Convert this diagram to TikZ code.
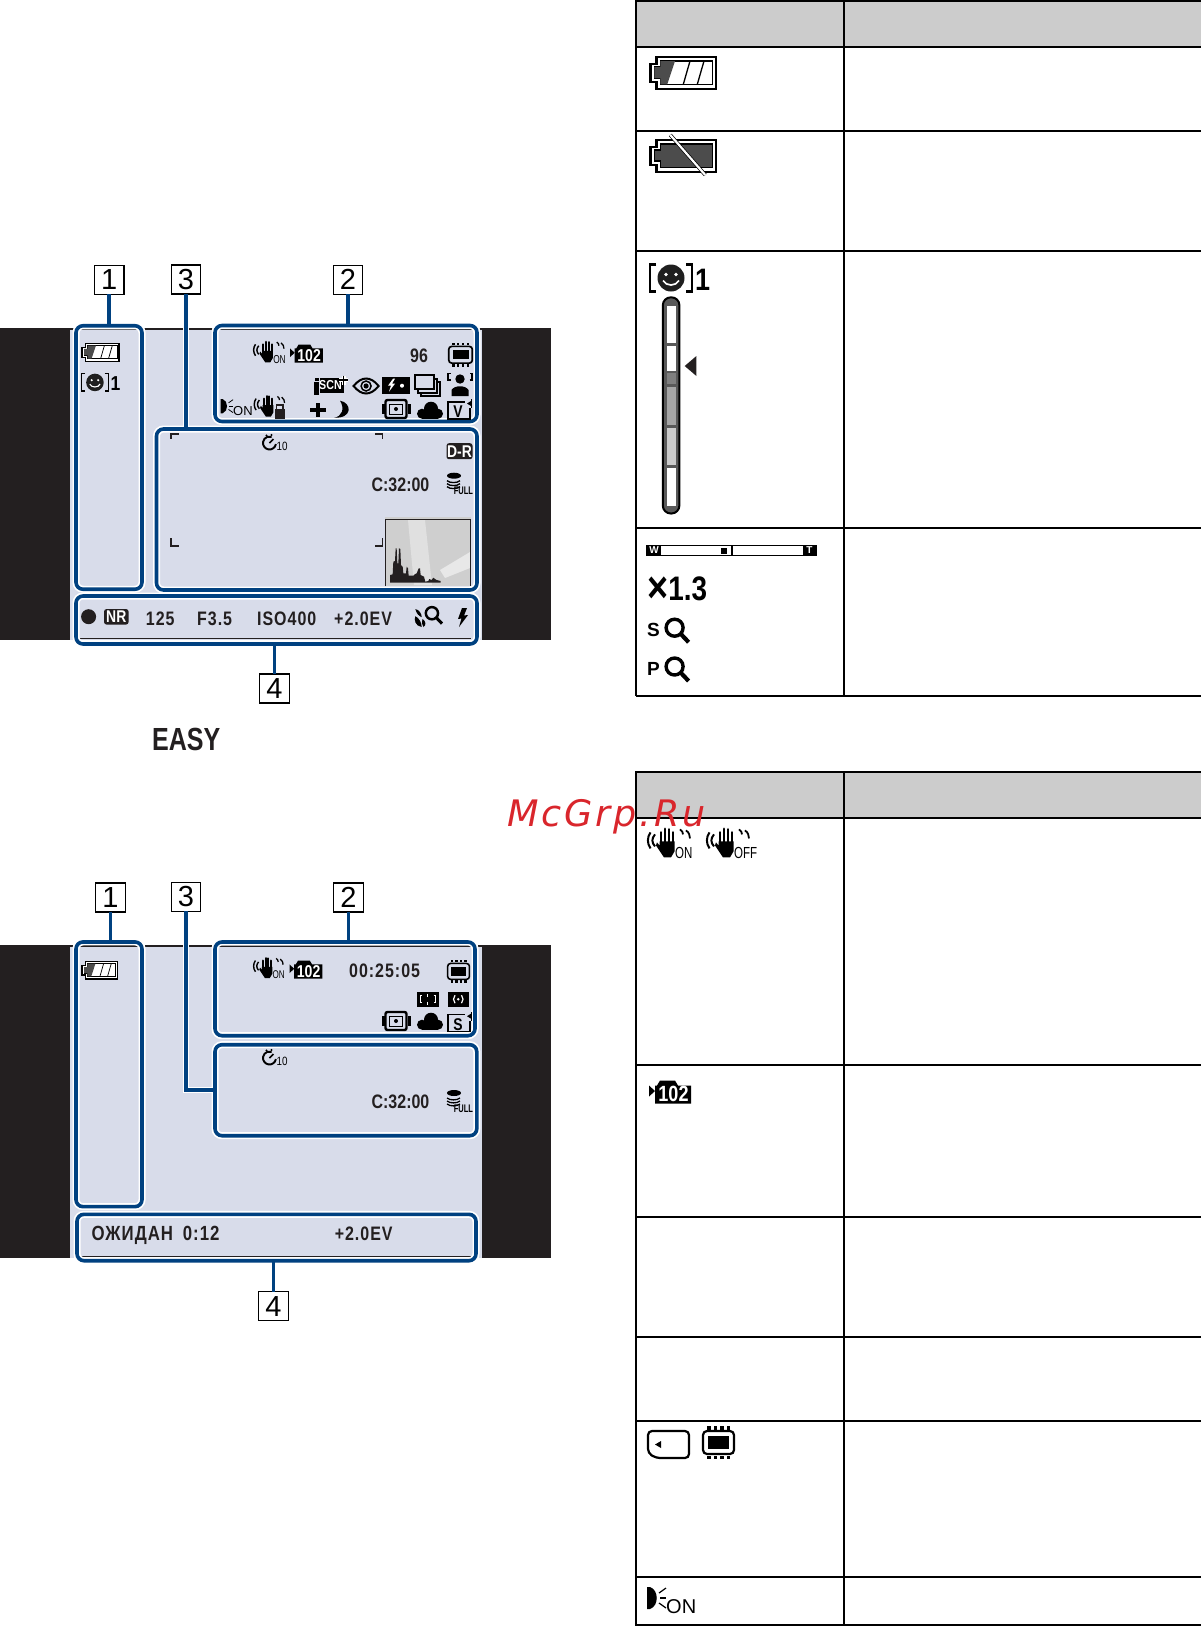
\documentclass[tikz,border=0pt]{standalone}
\usepackage{fontspec}
\usepackage{tikz}
\usetikzlibrary{backgrounds}
\setmainfont{Liberation Sans}
\newfontfamily\lcdfont[FakeStretch=.82]{Liberation Sans}
\newfontfamily\lcdwide[FakeStretch=.82,LetterSpace=5]{Liberation Sans}
\newfontfamily\tabfont[FakeStretch=.87]{Liberation Sans}
\newfontfamily\markfont[LetterSpace=8]{DejaVu Sans}
\definecolor{lcdfill}{HTML}{D8DCEA}
\definecolor{framecol}{HTML}{004180}
\definecolor{bandcol}{HTML}{231F20}
\definecolor{headcol}{HTML}{CCCCCC}
\definecolor{markcol}{HTML}{D9262C}
\newcommand{\iconinit}{\pgfgettransformentries{\lwa}{\lwb}{\lwc}{\lwd}{\lwe}{\lwf}}
\newcommand{\lcdsize}[1]{\lcdfont\bfseries\fontsize{#1}{#1}\selectfont}
\newcommand{\widesize}[1]{\lcdwide\bfseries\fontsize{#1}{#1}\selectfont}
\newcommand{\leadline}[1]{\begin{pgfonlayer}{background}\draw[leadhalo] #1;\end{pgfonlayer}\draw[lead] #1;}
\tikzset{
	ic/.style={line width=#1*\lwa*1pt},
	frame/.style={draw=framecol, line width=3.6pt, rounded corners=7pt, inner sep=0pt, outer sep=0pt,
		preaction={draw=white, line width=7pt}},
	lead/.style={draw=framecol, line width=3.6pt},
	leadhalo/.style={draw=white, line width=6.5pt},
	numbox/.style={draw, line width=1.2pt, fill=white, minimum width=29.5pt, minimum height=29pt, inner sep=0pt, outer sep=0pt, font=\fontsize{29}{29}\selectfont},
	lcdtxt/.style={anchor=base west, inner sep=0pt, text=bandcol, font=\lcdsize{19.5}},
	widetxt/.style={lcdtxt, font=\widesize{19.5}},
	ictxt/.style={transform shape, inner sep=0pt, anchor=base west},
	tagbox/.style={fill=bandcol, text=white, rounded corners=2.5pt, inner sep=0pt, font=\lcdsize{17}},
	tabline/.style={line width=2pt},
	battfull/.pic={\iconinit
		\draw[ic=2.4, fill=white] (7,1.2) -- (66.5,1.2) -- (66.5,32.8) -- (7,32.8) -- (7,25.7) -- (1.2,25.7) -- (1.2,8) -- (7,8) -- cycle;
		\draw[ic=1.3, fill=white] (11,5) -- (63,5) -- (63,28.3) -- (11,28.3) -- (11,22) -- (5,22) -- (5,11) -- (11,11) -- cycle;
		\fill[black!70] (11,5) -- (25.7,5) -- (18,28.3) -- (11,28.3) -- (11,22) -- (5,22) -- (5,11) -- (11,11) -- cycle;
		\draw[ic=1.3] (34,28.3) -- (40.7,5);
		\draw[ic=1.3] (48,28.3) -- (54.7,5);
	},
	battnone/.pic={\iconinit
		\draw[ic=2.4, fill=white] (7,1.2) -- (66.5,1.2) -- (66.5,32.8) -- (7,32.8) -- (7,25.7) -- (1.2,25.7) -- (1.2,8) -- (7,8) -- cycle;
		\draw[ic=1.3, fill=black!70] (11,5) -- (63,5) -- (63,28.3) -- (11,28.3) -- (11,22) -- (5,22) -- (5,11) -- (11,11) -- cycle;
		\draw[ic=3.6] (21,-4) -- (56,36);
		\draw[ic=2.2, white] (21,-4) -- (56,36);
	},
	smiley/.pic={\iconinit
		\draw[ic=2.4] (8,1) -- (2,1) -- (2,28) -- (8,28);
		\draw[ic=2.4] (38,1) -- (44,1) -- (44,28) -- (38,28);
		\fill[black!88] (23,14.5) circle[radius=13.5];
		\fill[white] (18,11) circle[radius=1.8];
		\fill[white] (28,11) circle[radius=1.8];
		\draw[ic=1.7, white] (15,17) .. controls (18,23) and (28,23) .. (31,17);
		\node[ictxt, font=\tabfont\bfseries\fontsize{31}{31}\selectfont] (one) at (47,27) {1};
	},
	hand/.pic={\iconinit
		\draw[ic=2] (3.5,5) .. controls (0,10) and (0,16) .. (3.5,21);
		\draw[ic=2] (8,7) .. controls (4.5,11) and (4.5,15) .. (8,19);
		\foreach \fx/\fy in {14/5,18/1.5,22/2,26/5}
			\draw[ic=2.9, line cap=round] (\fx,\fy) -- (\fx,18);
		\fill (12.5,14) -- (27.5,14) -- (27.5,24) -- (24,30) -- (17,30) -- (9,18) -- (10,15) -- (12.5,18) -- cycle;
		\draw[ic=1.8] (33,2) .. controls (35,3) and (36,5) .. (36,7);
		\draw[ic=1.8] (39,3) .. controls (42,5) and (43,8) .. (43,11);
		\node[ictxt, xscale=.72, font=\fontsize{16}{16}\selectfont] (state) at (28,31) {#1};
	},
	folder/.pic={\iconinit
		\fill (0,7) -- (6,12.5) -- (0,18) -- cycle;
		\fill (6,7) -- (8,7) -- (11,2) -- (26,2) -- (29,7) -- (42,7) -- (42,25) -- (6,25) -- cycle;
		\node[transform shape, inner sep=0pt, text=white, font=\lcdsize{22}] (num) at (24.5,15.5) {102};
	},
	chip/.pic={\iconinit
		\draw[ic=2.2, rounded corners=4*\lwa pt] (1,5) rectangle (32,28);
		\fill (6,10) rectangle (27,23);
		\foreach \px in {5,11.5,18,24.5} {
			\fill (\px,0) rectangle (\px+3.6,3.5);
			\fill (\px,29.5) rectangle (\px+3.6,33);
		}
	},
	card/.pic={\iconinit
		\draw[ic=2.2, rounded corners=4pt] (1,1) -- (42,1) -- (42,28) -- (9,28) -- (1,23) -- cycle;
		\fill (14,11) -- (8,14.5) -- (14,18) -- cycle;
	},
	dro/.pic={\iconinit
		\fill (0,0) -- (3,0) .. controls (12,3) and (12,19) .. (3,22) -- (0,22) -- cycle;
		\draw[ic=1.2] (12,6) -- (19,1);
		\draw[ic=1.2] (13,11) -- (19,11);
		\draw[ic=1.2] (12,16) -- (19,21);
		\node[ictxt, font=\fontsize{20}{20}\selectfont] (state) at (19,26) {ON};
	},
	iscn/.pic={\iconinit
		\fill (1.5,6) rectangle (6,19);
		\fill (2,2.5) rectangle (6,5);
		\fill (7,2) rectangle (31,17);
		\node[transform shape, inner sep=0pt, text=white, font=\lcdfont\bfseries\fontsize{13}{13}\selectfont] (scn) at (18,9.8) {SCN};
		\draw[ic=4, white] (31,0) -- (31,9);
		\draw[ic=4, white] (26.5,4.5) -- (35.5,4.5);
		\draw[ic=1.7] (31,0) -- (31,9);
		\draw[ic=1.7] (26.5,4.5) -- (35.5,4.5);
	},
	eye/.pic={\iconinit
		\draw[ic=2] (0,8) .. controls (8,-2) and (17,-2) .. (25,8) .. controls (17,18) and (8,18) .. cycle;
		\draw[ic=1.5] (12.5,8) circle[radius=5];
		\fill (12.5,8) circle[radius=2.6];
	},
	flashbox/.pic={\iconinit
		\fill (0,0) rectangle (28,17);
		\fill[white] (11,2) -- (6,9) -- (9,9) -- (7,15) -- (13,7) -- (10,7) -- (13,2) -- cycle;
		\fill[white] (20,9) circle[radius=2];
	},
	stack/.pic={\iconinit
		\draw[ic=1.2] (6,7) rectangle (25,21);
		\draw[ic=1.2, fill=lcdfill] (3,4) rectangle (22,18);
		\draw[ic=1.2, fill=lcdfill] (0,0) rectangle (19,14);
	},
	face/.pic={\iconinit
		\draw[ic=1.8] (3,7) -- (0.5,7) -- (0.5,0.5) -- (3,0.5);
		\draw[ic=1.8] (22,7) -- (24.5,7) -- (24.5,0.5) -- (22,0.5);
		\fill (12.5,6) circle[radius=4.7];
		\fill (4,23) -- (4,17) .. controls (7,12) and (18,12) .. (21,17) -- (21,23) -- cycle;
	},
	plussign/.pic={\iconinit
		\fill (6.2,0) rectangle (9.8,14);
		\fill (0,5.2) rectangle (16,8.8);
	},
	moon/.pic={\iconinit
		\fill (6,0) .. controls (18,2) and (19,18) .. (0,17) .. controls (8,16) and (11,8) .. (6,0) -- cycle;
	},
	spotcam/.pic={\iconinit
		\draw[ic=2.4, rounded corners=2pt] (4,1) rectangle (25,19);
		\fill (0,5) rectangle (3,15);
		\fill (26,5) rectangle (29,15);
		\draw[ic=1] (8,5) rectangle (21,15);
		\fill (14.5,10) circle[radius=2];
	},
	cloud/.pic={\iconinit
		\fill (5,12) circle[radius=5];
		\fill (14,7) circle[radius=7];
		\fill (21,12) circle[radius=5];
		\fill (5,11) rectangle (21,17);
	},
	sizebox/.pic={\iconinit
		\draw[ic=1.1] (0,3) rectangle (22,20);
		\fill[lcdfill] (17,0) rectangle (24,9);
		\fill (23,0) rectangle (24,9);
		\fill (23,2) -- (19,4.5) -- (23,7) -- cycle;
		\node[transform shape, inner sep=0pt, font=\lcdfont\bfseries\fontsize{17}{17}\selectfont] (size) at (10,12.5) {#1};
	},
	timer/.pic={\iconinit
		\draw[ic=1.9] (13.4,9.1) arc[start angle=10, end angle=290, radius=6.5];
		\draw[ic=1.5] (7,8) -- (11,4);
		\fill (4,0.5) circle[radius=1.1];
		\fill (9,0) circle[radius=1.1];
		\node[ictxt, font=\lcdfont\fontsize{12}{12}\selectfont] (secs) at (14,15) {10};
	},
	fullcard/.pic={\iconinit
		\fill (9,3) ellipse[x radius=7, y radius=3];
		\foreach \sy in {8,11,14}
			\draw[ic=1.3] (2,\sy) .. controls (5,\sy+2.5) and (12,\sy+2.5) .. (15,\sy);
		\node[ictxt, xscale=.83, font=\lcdfont\bfseries\fontsize{11}{11}\selectfont] (full) at (8.6,22) {FULL};
	},
	afbox/.pic={\iconinit
		\fill (0,0) rectangle (21.5,15);
		\draw[ic=1, white] (5,4) -- (3,4) -- (3,11) -- (5,11);
		\draw[ic=1, white] (16.5,4) -- (18.5,4) -- (18.5,11) -- (16.5,11);
		\draw[ic=1, white] (10.7,2) -- (10.7,5);
		\draw[ic=1, white] (10.7,10) -- (10.7,13);
	},
	meterbox/.pic={\iconinit
		\fill (0,0) rectangle (20.5,15);
		\draw[ic=1.2, white] (7,3.5) .. controls (5,6) and (5,9) .. (7,11.5);
		\draw[ic=1.2, white] (13.5,3.5) .. controls (15.5,6) and (15.5,9) .. (13.5,11.5);
		\fill[white] (10.2,7.5) circle[radius=1.4];
	},
	mag/.pic={\iconinit
		\draw[ic=3.4] (11,10) circle[radius=8.5];
		\draw[ic=4.2] (17,16) -- (25,24.5);
	},
	leaf/.pic={\iconinit
		\fill (2,8) .. controls (0,12) and (2,19) .. (9,20) .. controls (9,15) and (6,10) .. (2,8) -- cycle;
		\fill (11,20) .. controls (14,18) and (14,14) .. (10,11) .. controls (9,15) and (9,18) .. (11,20) -- cycle;
		\fill (2,0) .. controls (3,5) and (6,8) .. (9,9) .. controls (9,5) and (6,1) .. (2,0) -- cycle;
	},
	bolt/.pic={\iconinit
		\fill (4,0) -- (0,11) -- (3.5,10.5) -- (1,19) -- (10,7) -- (6,7.5) -- (9,0) -- cycle;
	},
}
\begin{document}
\begin{tikzpicture}[x=1pt,y=-1pt]
	\useasboundingbox (0,0) rectangle (1201,1626);
	
	\begin{pgfonlayer}{background}
		\fill[bandcol] (0,328) rectangle (551,640);
		\fill[lcdfill] (70,329.5) rectangle (482,640);
		\draw[line width=1pt, bandcol] (80,638.3) -- (471,638.3);
		
		\fill[bandcol] (0,945) rectangle (551,1257.7);
		\fill[lcdfill] (70,946.5) rectangle (482,1257.7);
		\draw[line width=1pt, bandcol] (80,1256.5) -- (471,1256.5);
	\end{pgfonlayer}
	
	\fill[headcol] (636,1) rectangle (1201,46.7);
	\fill[headcol] (636,771.5) rectangle (1201,818);
	\foreach \ty in {1,46.7,130.7,251,528,696}
		\draw[tabline] (636,\ty) -- (1201,\ty);
	\foreach \ty in {771.5,818,1065,1337,1421,1577,1625}
		\draw[tabline] (636,\ty) -- (1201,\ty);
	\draw[line width=1.4pt] (636,1217) -- (1201,1217);
	\draw[tabline] (636,0) -- (636,696);
	\draw[tabline] (843.6,0) -- (843.6,696);
	\draw[tabline] (636,771) -- (636,1626);
	\draw[tabline] (843.6,771) -- (843.6,1626);
	
	\node [frame, minimum width=66, minimum height=263.5] (fa1) at (109,457.5){};
	\node [frame, minimum width=262, minimum height=96] (fa2) at (346,373.5){};
	\node [frame, minimum width=320.5, minimum height=161] (fa3) at (316.75,509.5){};
	\node [frame, minimum width=401, minimum height=48] (fa4) at (276.5,620){};
	
	\node [numbox] (la1) at (109.2,279.8){1};
	\node [numbox] (la3) at (186,279.4){3};
	\node [numbox] (la2) at (348,279.7){2};
	\node [numbox] (la4) at (274.4,688.5){4};
	
	\leadline{(la1.south) -- (la1.south |- fa1.north)}
	\leadline{(la3.south) -- (la3.south |- fa3.north)}
	\leadline{(la2.south) -- (la2.south |- fa2.north)}
	\leadline{(la4.north) -- (la4.north |- fa4.south)}
	
	\pic[scale=.565] (ba1) at (81.4,342.7) {battfull};
	\pic[scale=.65] (sa1) at (80,373) {smiley};
	\pic[scale=.72] (ha1) at (253,340.7) {hand=ON};
	\pic[scale=.78] (da1) at (290,343) {folder};
	\node [lcdtxt] (ta96) at (410,362.7){96};
	\pic[xscale=.76,yscale=.73] (ca1) at (448,342.7) {chip};
	\pic (ia1) at (312.5,375.5) {iscn};
	\pic (ea1) at (353.6,378) {eye};
	\pic (fa1x) at (382,376.7) {flashbox};
	\pic (ka1) at (415,375) {stack};
	\pic (fc1) at (447.5,373) {face};
	\pic[scale=.65] (ra1) at (220.7,399) {dro};
	\pic[scale=.72] (ha2) at (253.6,395) {hand={}};
	\fill[bandcol] (274.5,409) rectangle (285,419);
	\draw[line width=1.3pt, bandcol] (276.5,409) -- (276.5,405) -- (283,405) -- (283,409);
	\pic (pa1) at (310,402.7) {plussign};
	\pic (ma1) at (334,400.7) {moon};
	\pic (sc1) at (381.5,399) {spotcam};
	\pic (cl1) at (417,401.7) {cloud};
	\pic (sz1) at (448,399) {sizebox=V};
	
	\draw[line width=1.8pt, bandcol] (178.5,433.7) -- (171,433.7) -- (171,439);
	\draw[line width=1.8pt, bandcol] (375,433.7) -- (382.5,433.7) -- (382.5,439);
	\draw[line width=1.8pt, bandcol] (171,538.3) -- (171,545.7) -- (178.5,545.7);
	\draw[line width=1.8pt, bandcol] (382.5,538.3) -- (382.5,545.7) -- (375,545.7);
	\pic (ta1) at (262.5,435) {timer};
	\node [tagbox, minimum width=26, minimum height=16] (dr1) at (459.5,451.2){D-R};
	\node [lcdtxt] (tac) at (371.4,491.7){C:32:00};
	\pic (fu1) at (445,472.7) {fullcard};
	
	\fill[black!19] (385,516.7) rectangle (471.4,586);
	\fill[black!12] (408,520) -- (425,520) -- (432,585) -- (414,585) -- cycle;
	\fill[black!9] (440,570) -- (470,552) -- (470,568) -- (445,578) -- cycle;
	\draw[line width=1pt, bandcol] (385.3,586) -- (385.3,519.3) -- (470.2,519.3) -- (470.2,586);
	\fill[bandcol, shift={(370,505)}, scale=1/3] (60,233) -- (60,210) -- (68,208) -- (70,170) -- (75,168) -- (77,130) -- (80,130) -- (82,175) -- (85,175) -- (87,130) -- (91,132) -- (93,180) -- (98,185) -- (100,205) -- (108,205) -- (110,185) -- (114,190) -- (116,212) -- (130,212) -- (134,208) -- (140,205) -- (146,190) -- (150,190) -- (152,210) -- (162,215) -- (166,230) -- (175,228) -- (178,222) -- (185,225) -- (190,218) -- (195,222) -- (200,225) -- (212,228) -- (212,233) -- cycle;
	
	\node [draw=none, fill=bandcol, circle, minimum size=15, inner sep=0pt] (dot1) at (88.6,616.7){};
	\node [tagbox, minimum width=24.5, minimum height=15.5] (nr1) at (116.3,616.8){NR};
	\node [widetxt] (ta125) at (145.7,625){125};
	\node [widetxt] (taf) at (197,625){F3.5};
	\node [widetxt] (taiso) at (257,625){ISO400};
	\node [widetxt] (taev) at (334,625){+2.0EV};
	\pic[scale=.9] (le1) at (413.6,609) {leaf};
	\pic[scale=.72] (mg1) at (424,606) {mag};
	\pic (bo1) at (458,608) {bolt};
	
	\node [lcdtxt, font=\tabfont\bfseries\fontsize{32}{32}\selectfont, xscale=.9, transform shape] (easy) at (152,750){EASY};
	
	\node [frame, minimum width=66, minimum height=264.7] (fb1) at (109,1074.3){};
	\node [frame, minimum width=260, minimum height=93.7] (fb2) at (345,988.85){};
	\node [frame, minimum width=261.8, minimum height=91] (fb3) at (345.9,1090.2){};
	\node [frame, minimum width=399, minimum height=46.4] (fb4) at (276.5,1237.5){};
	
	\node [numbox] (lb1) at (110.4,897.4){1};
	\node [numbox] (lb3) at (186,896.9){3};
	\node [numbox] (lb2) at (348.4,897.4){2};
	\node [numbox] (lb4) at (273.5,1306.3){4};
	
	\leadline{(lb1.south) -- (lb1.south |- fb1.north)}
	\leadline{(lb3.south) |- (fb3.west)}
	\leadline{(lb2.south) -- (lb2.south |- fb2.north)}
	\leadline{(lb4.north) -- (lb4.north |- fb4.south)}
	
	\pic[scale=.545] (bb1) at (81.4,961) {battfull};
	\pic[scale=.7] (hb1) at (253,957) {hand=ON};
	\pic[scale=.78] (db1) at (289.5,959) {folder};
	\node [widetxt] (tbtime) at (349,977){00:25:05};
	\pic[xscale=.7,yscale=.69] (cb1) at (447,960) {chip};
	\pic (ab1) at (417,991.7) {afbox};
	\pic (mb1) at (448,991.7) {meterbox};
	\pic (sb1) at (381.5,1011) {spotcam};
	\pic (clb) at (417,1012.7) {cloud};
	\pic (szb) at (448,1011.7) {sizebox=S};
	\pic (tb1) at (262.5,1050) {timer};
	\node [lcdtxt] (tbc) at (371.4,1108.7){C:32:00};
	\pic (fub) at (445,1090) {fullcard};
	\node [widetxt, font=\widesize{20.5}] (tbwait) at (91.4,1240.7){ОЖИДАН\hspace{4pt} 0:12};
	\node [widetxt] (tbev) at (334.6,1240.7){+2.0EV};
	
	\pic (bt1) at (649.3,56) {battfull};
	\pic (bt2) at (649.3,139) {battnone};
	\pic (st1) at (648,263.5) {smiley};
	
	\draw[line width=2pt, rounded corners=8pt, fill=black!65] (662.8,297.3) rectangle (679.4,513.5);
	\foreach \syt/\syb/\sc in {306/343/white,346/370.7/white,373.4/384/black!50,387/425/black!35,428/465.4/black!20,468/505.6/white}
		\fill[\sc] (667,\syt) rectangle (675.6,\syb);
	\fill[bandcol] (684.7,366) -- (696.4,356) -- (696.4,376) -- cycle;
	
	\draw[line width=1.2pt] (647,545.6) rectangle (816.5,555.4);
	\fill (647,545) rectangle (661,556);
	\fill (802.6,545) rectangle (816.5,556);
	\node [inner sep=0pt, text=white, font=\bfseries\fontsize{10}{10}\selectfont] (zw) at (654,550.5){W};
	\node [inner sep=0pt, text=white, font=\bfseries\fontsize{10}{10}\selectfont] (zt) at (809.5,550.5){T};
	\fill (721,547.5) rectangle (726.7,553.5);
	\fill (731,545) rectangle (733,556);
	
	\node [lcdtxt, text=black, font=\lcdsize{34}] (x13) at (647,600.7){\raisebox{-2pt}{\fontsize{44}{44}\selectfont ×}1.3};
	\node [lcdtxt, text=black, font=\bfseries\fontsize{19}{19}\selectfont] (zs) at (647,636.5){S};
	\pic (qs) at (663.6,617.7) {mag};
	\node [lcdtxt, text=black, font=\bfseries\fontsize{19}{19}\selectfont] (zp) at (647,675){P};
	\pic (qp) at (663.6,656.5) {mag};
	
	\pic (ht1) at (647,827.4) {hand=ON};
	\pic (ht2) at (706,827.4) {hand=OFF};
	\pic (dt1) at (649,1078.5) {folder};
	\pic (cdt) at (647,1430) {card};
	\pic (cht) at (702,1426) {chip};
	\pic (rt1) at (647,1587) {dro};
	
	\node [anchor=base west, inner sep=0pt, text=markcol, font=\markfont\itshape\fontsize{36.5}{36.5}\selectfont] (wmark) at (507,826.7){McGrp.Ru};
	
\end{tikzpicture}
\end{document}
